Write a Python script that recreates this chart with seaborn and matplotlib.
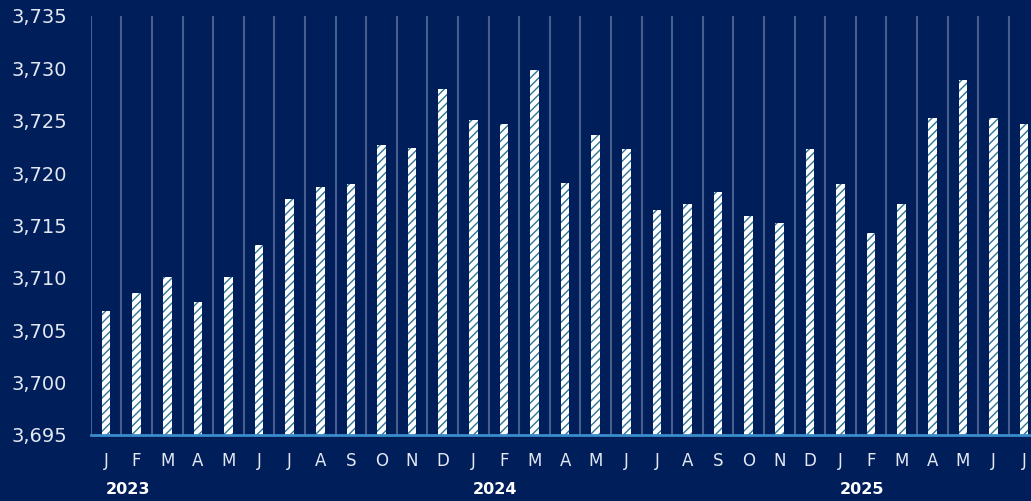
import matplotlib
matplotlib.use("Agg")
import matplotlib.pyplot as plt
import seaborn as sns
import pandas as pd

# Monthly values, Jan 2023 - Jul 2025
months = ["J", "F", "M", "A", "M", "J", "J", "A", "S", "O", "N", "D",
          "J", "F", "M", "A", "M", "J", "J", "A", "S", "O", "N", "D",
          "J", "F", "M", "A", "M", "J", "J"]
years = ["2023"] * 12 + ["2024"] * 12 + ["2025"] * 7
values = [3706.8, 3708.6, 3710.1, 3707.7, 3710.1, 3713.1, 3717.5, 3718.7,
          3719.0, 3722.7, 3722.4, 3728.0,
          3725.1, 3724.7, 3729.8, 3719.1, 3723.6, 3722.3, 3716.5, 3717.1,
          3718.2, 3715.9, 3715.2, 3722.3,
          3719.0, 3714.3, 3717.1, 3725.3, 3728.9, 3725.3, 3724.7]
y_ticks = [3695, 3700, 3705, 3710, 3715, 3720, 3725, 3730, 3735]

BG = "#001e5a"
TEXT = "#e3e8f2"
HATCH = "#2f7397"

sns.set_theme(style="white")
plt.rcParams["font.family"] = ["DejaVu Sans"]
plt.rcParams["hatch.linewidth"] = 1.0

df = pd.DataFrame({
    "period": [f"{y}-{i % 12 + 1:02d}" for i, y in enumerate(years)],
    "value": values,
})

fig = plt.figure(figsize=(10.31, 5.01), dpi=100, facecolor=BG)
ax = fig.add_axes([90.7 / 1031, 1 - 435 / 501, (1039.5 - 90.7) / 1031, (435 - 16) / 501])
ax.set_facecolor(BG)

sns.barplot(data=df, x="period", y="value", ax=ax, color="white",
            width=0.28, hatch="////", edgecolor=HATCH, linewidth=0,
            saturation=1, zorder=3)

n = len(values)
ax.set_xlim(-0.5, n - 0.5)
ax.set_ylim(y_ticks[0], y_ticks[-1])

# vertical separators between months
ax.set_xticks([i - 0.5 for i in range(n + 1)], minor=True)
ax.grid(which="minor", axis="x", color="#475f8d", linewidth=1.5, zorder=1)
ax.grid(which="major", visible=False)

ax.set_xticks(range(n))
ax.set_xticklabels(months, color=TEXT, fontsize=12)
ax.set_yticks(y_ticks)
ax.set_yticklabels([f"{v:,}" for v in y_ticks], color=TEXT, fontsize=14)
ax.tick_params(axis="x", length=0, pad=12)
ax.tick_params(axis="y", length=0, pad=17)
ax.tick_params(which="minor", length=0)
ax.set_xlabel("")
ax.set_ylabel("")

for side in ["top", "right", "left"]:
    ax.spines[side].set_visible(False)
ax.spines["bottom"].set_color("#3b8ccb")
ax.spines["bottom"].set_linewidth(2)
ax.spines["bottom"].set_zorder(4)

# year labels under the first month of each year
trans = ax.get_xaxis_transform()
for i, y in enumerate(years):
    if i == 0 or years[i - 1] != y:
        ax.text(i - 0.02, -0.13, y, transform=trans, ha="left", va="center",
                color="white", fontsize=11.5, fontweight="bold")

fig.savefig("out.png", dpi=100, facecolor=BG)
